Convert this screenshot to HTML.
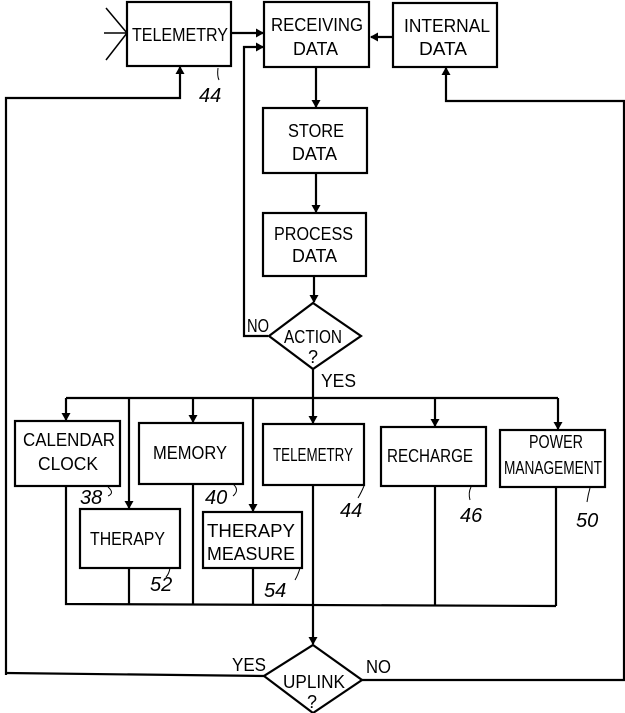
<!DOCTYPE html>
<html><head><meta charset="utf-8"><style>
html,body{margin:0;padding:0;background:#fff;}
svg{display:block;}
text{font-family:"Liberation Sans",sans-serif;font-size:18px;fill:#000;}
.n{font-style:italic;font-size:20px;}
</style></head><body>
<svg width="625" height="713" viewBox="0 0 625 713" xmlns="http://www.w3.org/2000/svg">
<defs><marker id="a" markerWidth="8" markerHeight="11" refX="7" refY="5.5" orient="auto" markerUnits="userSpaceOnUse"><path d="M0,1 L8,5.5 L0,10 Z" fill="#000"/></marker></defs>
<g fill="none" stroke="#000" stroke-width="2.2">
<rect x="127" y="2" width="104" height="64"/>
<rect x="264" y="2" width="105" height="65"/>
<rect x="393" y="3" width="104" height="64"/>
<path d="M106,8 L127,33 M104,33 L127,33 M106,60 L127,33" stroke-width="1.5"/>
<path d="M231,33 L263,33" marker-end="url(#a)"/>
<path d="M393,37 L371,37" marker-end="url(#a)"/>
<path d="M268,336 L244,336 L244,47 L263,47" marker-end="url(#a)"/>
<path d="M6,675 L6,98 L180,98 L180,67" marker-end="url(#a)"/>
<path d="M362,680 L624,680 L624,101 L446,101 L446,68" marker-end="url(#a)"/>
<path d="M218,68 Q217,76 219,80" stroke-width="1"/>
<rect x="263" y="108" width="104" height="65"/>
<rect x="263" y="213" width="103" height="63"/>
<path d="M316,67 L316,107" marker-end="url(#a)"/>
<path d="M316,173 L316,212" marker-end="url(#a)"/>
<path d="M314,276 L314,302" marker-end="url(#a)"/>
<path d="M313,303 L361,336 L313,369 L269,336 Z"/>
<path d="M313,369 L313,423" marker-end="url(#a)"/>
<path d="M66,398 L558,398"/>
<path d="M66,398 L66,420" marker-end="url(#a)"/>
<path d="M129,398 L129,508" marker-end="url(#a)"/>
<path d="M193,398 L193,422" marker-end="url(#a)"/>
<path d="M253,398 L253,511" marker-end="url(#a)"/>
<path d="M435,398 L435,426" marker-end="url(#a)"/>
<path d="M558,398 L558,429" marker-end="url(#a)"/>
<rect x="15" y="421" width="105" height="65"/>
<rect x="80" y="509" width="100" height="59"/>
<rect x="139" y="423" width="104" height="61"/>
<rect x="203" y="512" width="99" height="56"/>
<rect x="263" y="424" width="101" height="61"/>
<rect x="381" y="427" width="105" height="59"/>
<rect x="500" y="430" width="105" height="57"/>
<path d="M66,486 L66,604 L556,606 M129,568 L129,605 M193,484 L193,605 M253,568 L253,605 M435,486 L435,606 M556,487 L556,606"/>
<path d="M313,485 L313,644" marker-end="url(#a)"/>
<path d="M313,645 L362,680 L313,713 L264,676 Z"/>
<path d="M264,676 L6,673"/>
<g stroke-width="1">
<path d="M108,487 Q115,493 108,496"/>
<path d="M233,484 Q240,490 233,496"/>
<path d="M364,486 Q361,493 358,498"/>
<path d="M471,487 Q468,493 470,500"/>
<path d="M590,488 Q588,495 587,502"/>
<path d="M170,568 Q169,574 166,577"/>
<path d="M300,568 Q298,575 295,580"/>
</g>
</g>
<text x="132" y="41" textLength="96" lengthAdjust="spacingAndGlyphs">TELEMETRY</text>
<text x="271" y="31" textLength="92" lengthAdjust="spacingAndGlyphs">RECEIVING</text>
<text x="293" y="55" textLength="45" lengthAdjust="spacingAndGlyphs">DATA</text>
<text x="404" y="32" textLength="86" lengthAdjust="spacingAndGlyphs">INTERNAL</text>
<text x="419" y="55" textLength="48" lengthAdjust="spacingAndGlyphs">DATA</text>
<text class="n" x="199" y="102">44</text>
<text x="288" y="137" textLength="56" lengthAdjust="spacingAndGlyphs">STORE</text>
<text x="292" y="160" textLength="45" lengthAdjust="spacingAndGlyphs">DATA</text>
<text x="274" y="240" textLength="79" lengthAdjust="spacingAndGlyphs">PROCESS</text>
<text x="292" y="262" textLength="45" lengthAdjust="spacingAndGlyphs">DATA</text>
<text x="284" y="343" textLength="58" lengthAdjust="spacingAndGlyphs">ACTION</text>
<text x="308" y="363">?</text>
<text x="247" y="332" textLength="22" lengthAdjust="spacingAndGlyphs">NO</text>
<text x="321" y="387" textLength="35" lengthAdjust="spacingAndGlyphs">YES</text>
<text x="23" y="446" textLength="92" lengthAdjust="spacingAndGlyphs">CALENDAR</text>
<text x="38" y="470" textLength="60" lengthAdjust="spacingAndGlyphs">CLOCK</text>
<text x="153" y="459" textLength="74" lengthAdjust="spacingAndGlyphs">MEMORY</text>
<text x="273" y="461" textLength="80" lengthAdjust="spacingAndGlyphs">TELEMETRY</text>
<text x="387" y="462" textLength="86" lengthAdjust="spacingAndGlyphs">RECHARGE</text>
<text x="529" y="448" textLength="54" lengthAdjust="spacingAndGlyphs">POWER</text>
<text x="504" y="474" textLength="98" lengthAdjust="spacingAndGlyphs">MANAGEMENT</text>
<text x="90" y="545" textLength="75" lengthAdjust="spacingAndGlyphs">THERAPY</text>
<text x="207" y="537" textLength="88" lengthAdjust="spacingAndGlyphs">THERAPY</text>
<text x="207" y="560" textLength="88" lengthAdjust="spacingAndGlyphs">MEASURE</text>
<text class="n" x="80" y="504">38</text>
<text class="n" x="205" y="504">40</text>
<text class="n" x="340" y="517">44</text>
<text class="n" x="460" y="522">46</text>
<text class="n" x="576" y="527">50</text>
<text class="n" x="150" y="591">52</text>
<text class="n" x="264" y="597">54</text>
<text x="232" y="671" textLength="34" lengthAdjust="spacingAndGlyphs">YES</text>
<text x="366" y="673" textLength="25" lengthAdjust="spacingAndGlyphs">NO</text>
<text x="283" y="688" textLength="62" lengthAdjust="spacingAndGlyphs">UPLINK</text>
<text x="307" y="708">?</text>
</svg>
</body></html>
